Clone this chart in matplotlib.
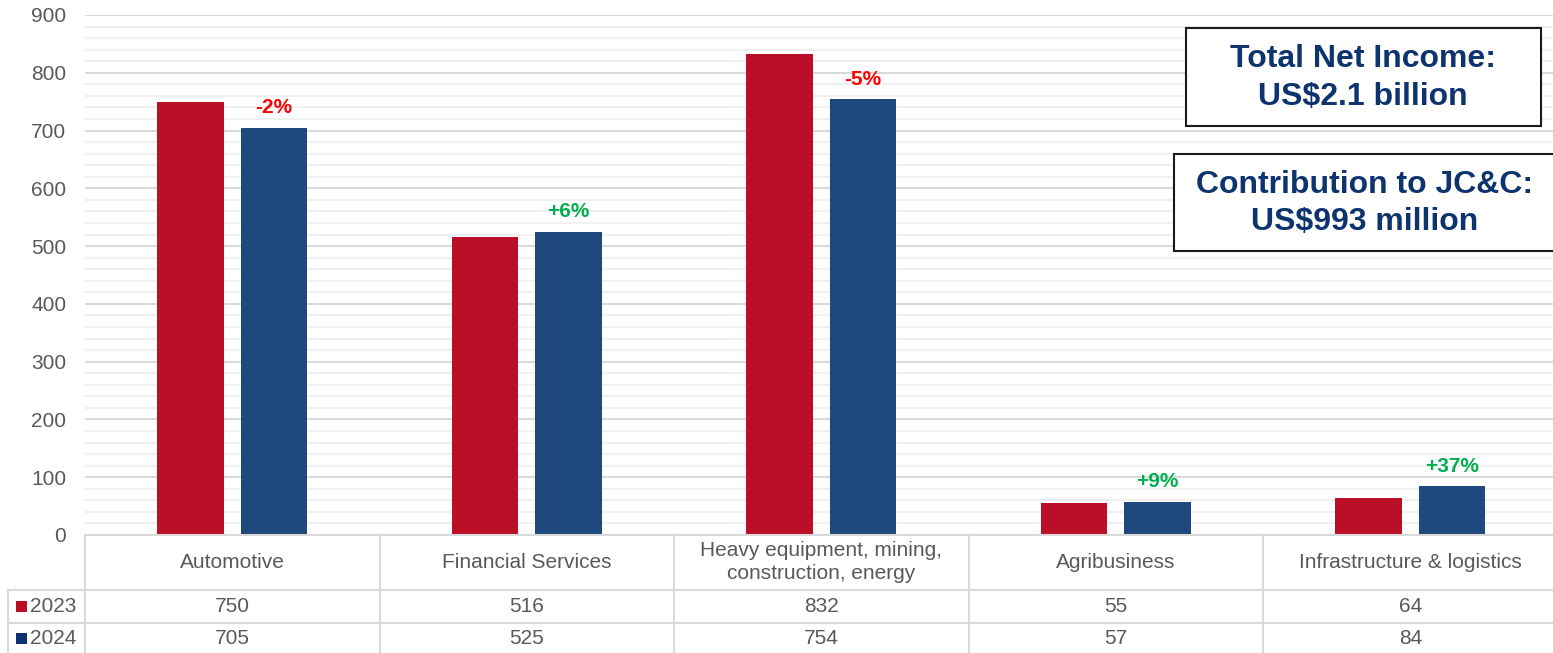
import matplotlib
matplotlib.use("Agg")
import matplotlib.pyplot as plt
import numpy as np
from matplotlib.patches import Rectangle
from matplotlib.lines import Line2D
from matplotlib.transforms import blended_transform_factory

plt.rcParams['font.family'] = ['Liberation Sans', 'DejaVu Sans']

categories = ['Automotive', 'Financial Services', 'Heavy equipment, mining,\nconstruction, energy',
              'Agribusiness', 'Infrastructure & logistics']
vals_2023 = [750, 516, 832, 55, 64]
vals_2024 = [705, 525, 754, 57, 84]
pct_labels = ['-2%', '+6%', '-5%', '+9%', '+37%']
series_names = ['2023', '2024']

red = '#BA0F27'
blue = '#1F497D'
navy = '#0E3470'
grey_txt = '#595959'
grid_major = '#d9d9d9'
grid_minor = '#f0f0f0'

W, H = 1553, 653
fig = plt.figure(figsize=(W / 100, H / 100), dpi=100)

def fy(py):
    # pixel row (from top) -> figure fraction
    return 1 - py / H

def fx(px):
    return px / W

y0_px, y900_px = 535, 15
left_px, cat_w = 85, 294.5
ax = fig.add_axes([fx(left_px), fy(y0_px), fx(5 * cat_w), (y0_px - y900_px) / H])

x = np.arange(len(categories))
bw = 0.225
ax.bar(x - 0.142, vals_2023, bw, color=red, zorder=3)
ax.bar(x + 0.142, vals_2024, bw, color=blue, zorder=3)

for i, lab in enumerate(pct_labels):
    c = '#FF0000' if lab.startswith('-') else '#00B050'
    ax.annotate(lab, (x[i] + 0.142, vals_2024[i]), xytext=(0, 14.5), textcoords='offset points',
                ha='center', va='center', fontsize=15, fontweight='bold', color=c, zorder=4)

ax.set_xlim(-0.5, len(categories) - 0.5)
ax.set_ylim(0, 900)
ax.set_yticks(np.arange(0, 901, 100))
ax.set_yticks(np.arange(0, 901, 20), minor=True)
ax.set_xticks([])
ax.grid(which='major', axis='y', color=grid_major, lw=1.5, zorder=1)
ax.grid(which='minor', axis='y', color=grid_minor, lw=1.5, zorder=0)
ax.set_axisbelow(True)
ax.tick_params(axis='y', which='both', length=0, pad=13.5, labelsize=15, labelcolor=grey_txt)
for s in ax.spines.values():
    s.set_visible(False)

# data table under the chart
tr = blended_transform_factory(ax.transData, fig.transFigure)
row_tops = [535, 590, 622.5]
row_bot = 660
line_kw = dict(color=grid_major, lw=1.5, clip_on=False)

fig.add_artist(Line2D([fx(left_px), fx(left_px + 5 * cat_w)], [fy(535)] * 2, transform=fig.transFigure, **line_kw))
for yy in row_tops[1:]:
    fig.add_artist(Line2D([fx(8), fx(left_px + 5 * cat_w)], [fy(yy)] * 2, transform=fig.transFigure, **line_kw))
for k in range(len(categories) + 1):
    xx = left_px + k * cat_w
    fig.add_artist(Line2D([fx(xx)] * 2, [fy(535), fy(row_bot)], transform=fig.transFigure, **line_kw))
fig.add_artist(Line2D([fx(8)] * 2, [fy(590), fy(row_bot)], transform=fig.transFigure, **line_kw))

for i, cat in enumerate(categories):
    fig.text(x[i], fy(562), cat, transform=tr, ha='center', va='center', fontsize=15,
             color=grey_txt, linespacing=1.3)
    fig.text(x[i], fy(606), str(vals_2023[i]), transform=tr, ha='center', va='center',
             fontsize=15, color=grey_txt)
    fig.text(x[i], fy(638), str(vals_2024[i]), transform=tr, ha='center', va='center',
             fontsize=15, color=grey_txt)

for name, col, yc in zip(series_names, [red, '#0A3370'], [606, 638]):
    fig.add_artist(Rectangle((fx(16), fy(yc + 5.5)), fx(11), 11 / H, transform=fig.transFigure,
                             facecolor=col, edgecolor='none'))
    fig.text(fx(30), fy(yc), name, ha='left', va='center', fontsize=15, color=grey_txt)

# summary boxes
boxes = [((1186, 28, 1541, 126), 'Total Net Income:\nUS$2.1 billion', 1363),
         ((1174, 154, 1565, 251), 'Contribution to JC&C:\nUS$993 million', 1365)]
for (x1, y1, x2, y2), txt, xc in boxes:
    fig.add_artist(Rectangle((fx(x1), fy(y2)), fx(x2 - x1), (y2 - y1) / H, transform=fig.transFigure,
                             facecolor='white', edgecolor='#1a1a1a', lw=1.5, zorder=5))
    fig.text(fx(xc), fy((y1 + y2) / 2 + 1), txt, ha='center', va='center', fontsize=23,
             fontweight='bold', color=navy, linespacing=1.32, zorder=6)

fig.savefig('out.png', dpi=100)
